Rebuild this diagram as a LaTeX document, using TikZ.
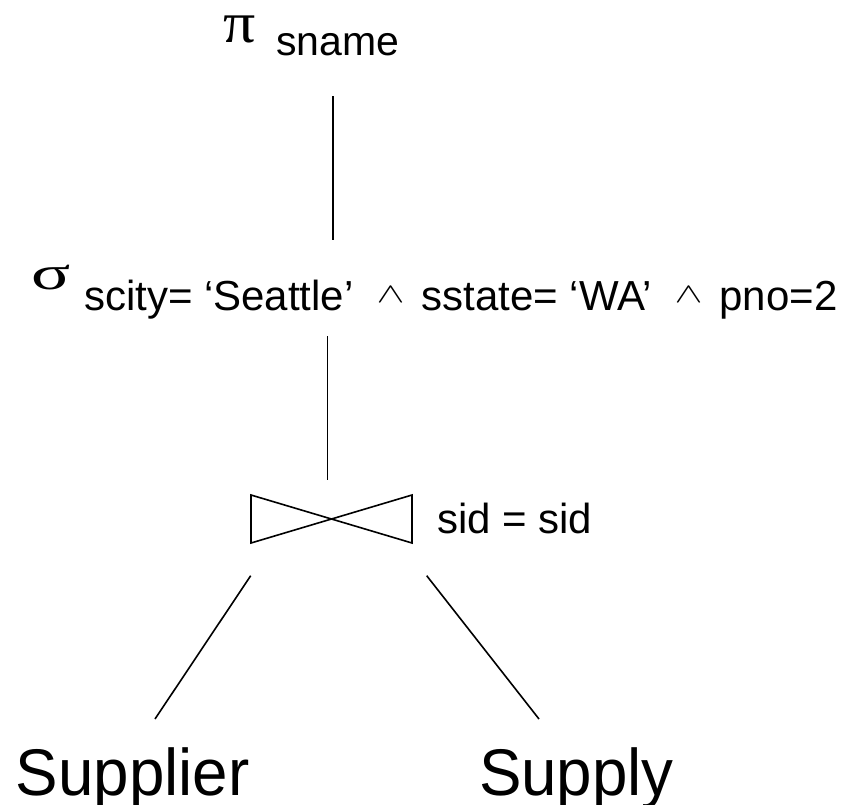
\documentclass[tikz,border=0pt]{standalone}
\usepackage{fontspec}
\setmainfont{Liberation Sans}
\newfontfamily\greekfont{Liberation Serif}
\begin{document}
\begin{tikzpicture}[x=1pt,y=-1pt,
  txt/.style={anchor=base west,inner sep=0pt,outer sep=0pt},
  sub/.style={txt,font=\fontsize{41}{41}\selectfont},
  rel/.style={txt,font=\fontsize{66}{66}\selectfont,xscale=0.965},
  op/.style={txt,font=\fontsize{56}{56}\selectfont\greekfont},
  edge/.style={line width=1.6pt},
  joinsym/.style={line width=1.6pt,line join=miter}]
\useasboundingbox (0,0) rectangle (857,804);
% thin wedge used inside the selection predicate
\newcommand{\andop}{\makebox[22pt]{\raisebox{8pt}{\scalebox{4.2}[2.8]{\fontsize{10}{12}\selectfont$\wedge$}}}}

% projection
\node[op,font=\fontsize{58}{58}\selectfont\greekfont,xscale=1.1] (pi) at (223,42) {π};
\node[sub] (piarg) at (276,55) {sname};

% selection
\node[op,xscale=1.3,yscale=0.85] (sigma) at (31,289) {σ};
\node[sub,font=\fontsize{42}{42}\selectfont] (sigmaarg) at (84,310)
  {scity= ‘Seattle’\hspace{26pt}\andop\hspace{20pt}sstate= ‘WA’\hspace{26pt}\andop\hspace{20pt}pno=2};

% join symbol and condition
\coordinate (jtl) at (251,495);
\coordinate (jbl) at (251,543);
\coordinate (jtr) at (412,495);
\coordinate (jbr) at (412,543);
\draw[joinsym] (jtl) -- (jbr) -- (jtr) -- (jbl) -- cycle;
\node[sub,font=\fontsize{42}{42}\selectfont] (jcond) at (437,533) {sid = sid};

% base relations
\node[rel] (supplier) at (16,795) {Supplier};
\node[rel] (supply)   at (479,795) {Supply};

% tree edges
\coordinate (pi-bot)    at (333,96);
\coordinate (sel-top)   at (333,240);
\coordinate (sel-bot)   at (327.5,336);
\coordinate (join-top)  at (327.5,480);
\coordinate (join-bl)   at (250.7,575.7);
\coordinate (join-br)   at (426.7,575.7);
\coordinate (supplier-top) at (155,719);
\coordinate (supply-top)   at (539,719);
\draw[edge] (pi-bot) -- (sel-top);
\draw[edge] (sel-bot) -- (join-top);
\draw[edge] (join-bl) -- (supplier-top);
\draw[edge] (join-br) -- (supply-top);
\end{tikzpicture}
\end{document}
